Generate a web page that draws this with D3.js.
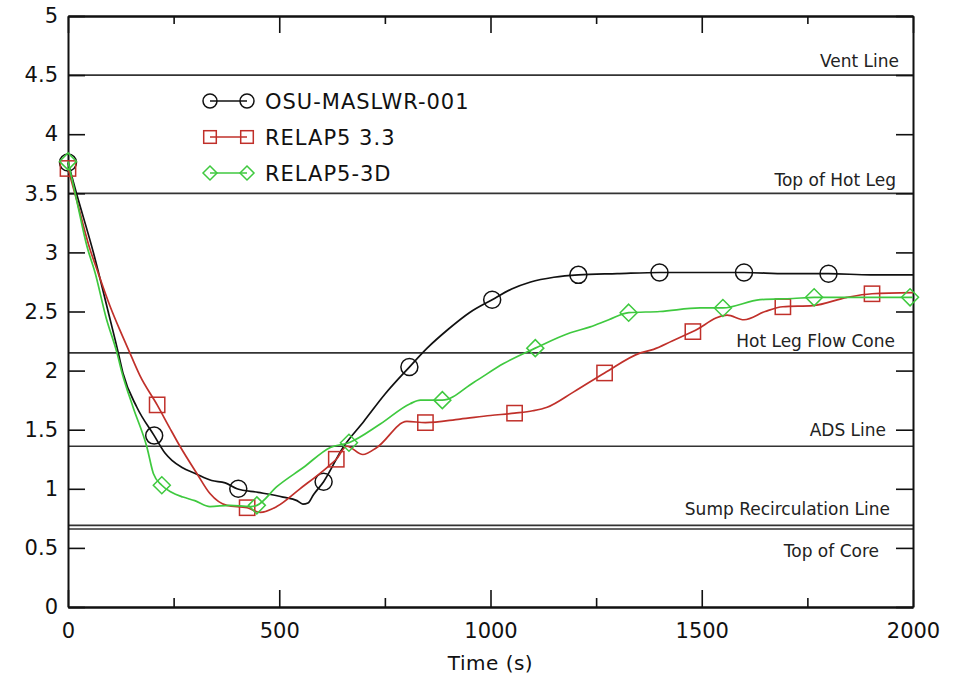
<!DOCTYPE html>
<html>
<head>
<meta charset="utf-8">
<script src="https://cdn.jsdelivr.net/npm/d3@7"></script>
<style>
  body { margin: 0; background: #fff; }
  text { font-family: "DejaVu Sans", sans-serif; }
</style>
</head>
<body>
<div id="chart"></div>
<script>
// Collapsed liquid level vs time ([time s, level])
const osuData = [
  [0,3.76],[20,3.5],[60,3.0],[95,2.5],[119,2.15],[130,1.98],[163,1.69],[204,1.45],
  [230,1.3],[246,1.24],[270,1.18],[301,1.13],[340,1.07],[372,1.05],[400,1.0],[450,0.97],
  [509,0.93],[542,0.9],[556,0.87],[568,0.88],[581,0.95],[605,1.06],[651,1.35],[700,1.57],
  [750,1.8],[808,2.03],[850,2.19],[900,2.35],[950,2.49],[1004,2.6],[1050,2.69],[1095,2.75],
  [1150,2.79],[1208,2.81],[1300,2.82],[1400,2.83],[1500,2.83],[1600,2.83],[1700,2.82],
  [1800,2.82],[1900,2.81],[2000,2.81]
];
const relap33Data = [
  [0,3.71],[20,3.45],[50,3.05],[71,2.83],[100,2.54],[128,2.3],[150,2.12],[170,1.96],
  [211,1.71],[240,1.52],[265,1.36],[305,1.13],[336,0.96],[376,0.86],[424,0.84],[455,0.8],
  [494,0.85],[549,1.0],[613,1.18],[635,1.25],[660,1.36],[698,1.29],[731,1.35],[802,1.57],
  [846,1.56],[928,1.59],[1000,1.62],[1057,1.64],[1100,1.66],[1134,1.69],[1197,1.82],
  [1270,1.98],[1355,2.15],[1386,2.18],[1430,2.25],[1479,2.33],[1560,2.47],[1600,2.43],
  [1650,2.5],[1692,2.54],[1763,2.55],[1844,2.62],[1903,2.65],[2000,2.66]
];
const relap3dData = [
  [0,3.77],[20,3.45],[45,3.05],[64,2.83],[90,2.45],[116,2.15],[128,1.98],[154,1.69],
  [187,1.35],[202,1.13],[222,1.03],[245,0.97],[272,0.93],[300,0.9],[336,0.85],[383,0.86],
  [431,0.85],[447,0.86],[495,1.02],[557,1.18],[621,1.35],[665,1.39],[740,1.55],[810,1.72],
  [834,1.75],[886,1.75],[960,1.9],[1031,2.06],[1106,2.19],[1189,2.32],[1236,2.37],
  [1280,2.43],[1327,2.49],[1401,2.5],[1496,2.53],[1550,2.53],[1638,2.6],[1716,2.61],
  [1766,2.62],[1875,2.62],[2000,2.62]
];

// Marker positions ([time s, level])
const osuMarks = [[0,3.76],[204,1.45],[403,1.0],[605,1.06],[808,2.03],[1004,2.6],[1208,2.81],[1400,2.83],[1600,2.83],[1800,2.82]];
const relap33Marks = [[0,3.71],[211,1.71],[424,0.84],[635,1.25],[846,1.56],[1057,1.64],[1270,1.98],[1479,2.33],[1692,2.54],[1903,2.65]];
const relap3dMarks = [[0,3.77],[222,1.03],[447,0.86],[665,1.39],[886,1.75],[1106,2.19],[1327,2.49],[1550,2.53],[1766,2.62],[1993,2.62]];

const seriesNames = ["OSU-MASLWR-001", "RELAP5 3.3", "RELAP5-3D"];

// Reference elevations
const levelNames = ["Vent Line", "Top of Hot Leg", "Hot Leg Flow Cone", "ADS Line", "Sump Recirculation Line", "Top of Core"];
const levelValues = [4.5, 3.5, 2.15, 1.36, 0.69, 0.66];

const xTicks = [0, 500, 1000, 1500, 2000];
const xMinorTicks = [250, 750, 1250, 1750];
const yTicks = [0, 0.5, 1, 1.5, 2, 2.5, 3, 3.5, 4, 4.5, 5];

// layout
const width = 963, height = 682;
const margin = {top: 16, right: 50, bottom: 75, left: 68};
const innerWidth = width - margin.left - margin.right;
const innerHeight = height - margin.top - margin.bottom;

// label placement (right end in px from plot right, dy from line)
const levelLabelStyle = [
  {end: 14, dy: -8}, {end: 17, dy: -7}, {end: 18, dy: -6},
  {end: 27, dy: -10}, {end: 23, dy: -10}, {end: 34, dy: 28}
];

const colors = ["#111111", "#c0302a", "#3fc93f"];
const shapes = ["circle", "square", "diamond"];

const xScale = d3.scaleLinear().domain([0, 2000]).range([0, innerWidth]);
const yScale = d3.scaleLinear().domain([0, 5]).range([innerHeight, 0]);

const svg = d3.select("#chart")
  .append("svg")
    .attr("width", width)
    .attr("height", height);

const chart = svg.append("g")
  .attr("transform", `translate(${margin.left}, ${margin.top})`);

// Reference lines + labels
chart.selectAll(".level-line")
  .data(levelValues)
  .join("line")
    .attr("class", "level-line")
    .attr("x1", 0)
    .attr("x2", innerWidth)
    .attr("y1", d => yScale(d))
    .attr("y2", d => yScale(d))
    .attr("stroke", "#333")
    .attr("stroke-width", 1.7);

// right-aligned by measuring, start anchor
chart.selectAll(".level-label")
  .data(levelNames)
  .join("text")
    .attr("class", "level-label")
    .text(d => d)
    .attr("y", (d, i) => yScale(levelValues[i]) + levelLabelStyle[i].dy)
    .attr("fill", "#222")
    .style("font-size", "17px")
    .attr("x", function(d, i) {
      return innerWidth - levelLabelStyle[i].end - this.getComputedTextLength();
    });

// Axes, ticks drawn inside the frame
const styleAxis = g => {
  g.select(".domain").attr("stroke", "#111").attr("stroke-width", 2);
  g.selectAll(".tick line").attr("stroke", "#111").attr("stroke-width", 1.6);
  g.selectAll("text").attr("fill", "#111").style("font-size", "21px").style("font-family", "DejaVu Sans, sans-serif");
};
const noLabels = g => g.selectAll("text").remove();

chart.append("g")
  .attr("transform", `translate(0, ${innerHeight})`)
  .call(d3.axisBottom(xScale).tickValues(xTicks).tickSizeInner(-17).tickSizeOuter(0).tickPadding(16).tickFormat(d3.format("d")))
  .call(styleAxis);
chart.append("g")
  .attr("transform", `translate(0, ${innerHeight})`)
  .call(d3.axisBottom(xScale).tickValues(xMinorTicks).tickSizeInner(-9).tickSizeOuter(0))
  .call(styleAxis).call(noLabels);
chart.append("g")
  .call(d3.axisTop(xScale).tickValues(xTicks).tickSizeInner(-17).tickSizeOuter(0))
  .call(styleAxis).call(noLabels);
chart.append("g")
  .call(d3.axisTop(xScale).tickValues(xMinorTicks).tickSizeInner(-8).tickSizeOuter(0))
  .call(styleAxis).call(noLabels);
chart.append("g")
  .call(d3.axisLeft(yScale).tickValues(yTicks).tickSizeInner(-17).tickSizeOuter(0).tickPadding(10).tickFormat(d3.format("~g")))
  .call(styleAxis);
chart.append("g")
  .attr("transform", `translate(${innerWidth}, 0)`)
  .call(d3.axisRight(yScale).tickValues(yTicks).tickSizeInner(-17).tickSizeOuter(0))
  .call(styleAxis).call(noLabels);

svg.append("text")
  .text("Time (s)")
  .attr("x", margin.left + innerWidth / 2)
  .attr("y", 670)
  .attr("text-anchor", "middle")
  .attr("fill", "#111")
  .style("font-size", "20px")
  .style("letter-spacing", "0.5px");

// Curves
const lineGenerator = d3.line()
  .x(d => xScale(d[0]))
  .y(d => yScale(d[1]))
  .curve(d3.curveMonotoneX);

const allData = [osuData, relap33Data, relap3dData];
const allMarks = [osuMarks, relap33Marks, relap3dMarks];

const drawMarker = (sel, shape, size, color) => {
  if (shape === "circle") {
    sel.append("circle").attr("r", size / 2);
  } else if (shape === "square") {
    sel.append("rect").attr("x", -size * 0.45).attr("y", -size * 0.45)
      .attr("width", size * 0.9).attr("height", size * 0.9);
  } else {
    const h = size / 2;
    sel.append("path").attr("d", `M0,${-h}L${h},0L0,${h}L${-h},0Z`);
  }
  sel.selectAll("*").attr("fill", "none").attr("stroke", color).attr("stroke-width", 1.5);
};

allData.forEach((series, i) => {
  chart.append("path")
    .attr("d", lineGenerator(series))
    .attr("fill", "none")
    .attr("stroke", colors[i])
    .attr("stroke-width", 1.7);

  chart.selectAll(`.mark-${i}`)
    .data(allMarks[i])
    .join("g")
      .attr("class", `mark-${i}`)
      .attr("transform", d => `translate(${xScale(d[0])}, ${yScale(d[1])})`)
      .each(function() { drawMarker(d3.select(this), shapes[i], 17, colors[i]); });
});

// Legend
const legend = svg.append("g")
  .attr("transform", "translate(210, 101)");
seriesNames.forEach((name, i) => {
  const row = legend.append("g").attr("transform", `translate(0, ${i * 36})`);
  row.append("line")
    .attr("x1", 0).attr("x2", 37)
    .attr("stroke", colors[i]).attr("stroke-width", 1.5);
  drawMarker(row.append("g"), shapes[i], 14, colors[i]);
  drawMarker(row.append("g").attr("transform", "translate(37, 0)"), shapes[i], 14, colors[i]);
  row.append("text")
    .text(name)
    .attr("x", 55)
    .attr("dy", "0.36em")
    .attr("fill", "#111")
    .style("font-size", "21px")
    .style("letter-spacing", "1px");
});
</script>
</body>
</html>
